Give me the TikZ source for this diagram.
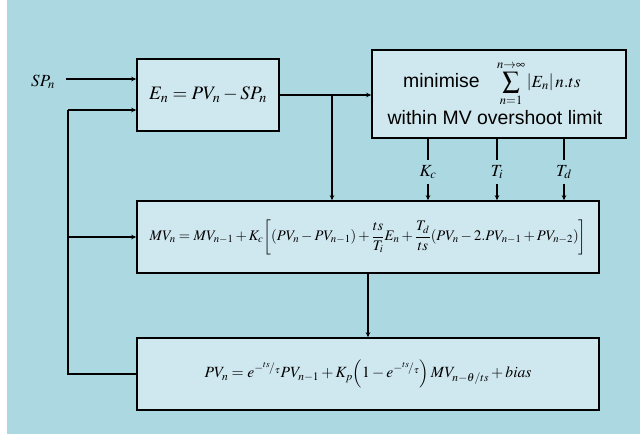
\documentclass[tikz,border=0pt]{standalone}
\usepackage{mathptmx}
\usepackage{fontspec}
\setmainfont{Liberation Serif}
\newfontfamily\arialf{Liberation Sans}
\usetikzlibrary{arrows.meta,calc}
\definecolor{bgblue}{HTML}{ACD8E2}
\definecolor{boxblue}{HTML}{CFE7EE}
\begin{document}
\begin{tikzpicture}[x=1pt,y=-1pt,
  blk/.style={draw=black,line width=1.6pt,fill=boxblue,inner sep=0pt,minimum width=#1},
  conn/.style={line width=2pt,draw=black},
  arr/.style={conn,-{Stealth[length=5pt,width=4.5pt]}},
  eq/.style={font=\fontsize{14.6}{16}\selectfont},
  big/.style={font=\fontsize{19}{21}\selectfont},
  sanstext/.style={font=\arialf\fontsize{19.4}{21}\selectfont,inner sep=0pt},
  lbl/.style={font=\fontsize{17}{19}\selectfont,inner sep=2pt}]
\useasboundingbox (0,0) rectangle (640,434);
\fill[white] (0,0) rectangle (640,434);
\fill[bgblue] (7,0) rectangle (640,434);

\node[blk=142pt,minimum height=72pt,big] (en) at (208,95) {$E_n = PV_n - SP_n$};
\node[blk=254pt,minimum height=88pt] (mini) at (499,94) {};
\node[sanstext,anchor=base west] (m1) at (403,87) {minimise};
\node[font=\fontsize{17}{19}\selectfont,inner sep=0pt,anchor=base west] (msum) at (497,87)
  {$\displaystyle\sum_{n=1}^{n\to\infty}\left|E_n\right| n.ts$};
\node[sanstext,anchor=base] (m2) at (495,124) {within MV overshoot limit};
\node[blk=462pt,minimum height=72pt,eq] (mv) at (368,237)
  {$\displaystyle MV_n = MV_{n-1} + K_c\!\left[(PV_n - PV_{n-1}) + \frac{ts}{T_i}E_n + \frac{T_d}{ts}(PV_n - 2.PV_{n-1} + PV_{n-2})\right]$};
\node[blk=462pt,minimum height=72pt,font=\fontsize{15.6}{17}\selectfont] (pv) at (368,374)
  {$\displaystyle PV_n = e^{-{}^{ts}\!/_{\tau}} PV_{n-1} + K_p\!\left(1 - e^{-{}^{ts}\!/_{\tau}}\right) MV_{n-\theta/ts} + bias$};

\node[lbl] (sp) at (43,82) {$SP_n$};
\node[lbl] (kc) at (428,172) {$K_c$};
\node[lbl] (ti) at (497,172) {$T_i$};
\node[lbl] (td) at (564,172) {$T_d$};

\coordinate (fbtop) at (68,110);
\coordinate (fbmid) at (68,237);
\coordinate (fbbot) at (68,374);
\coordinate (br) at (332,95);
\coordinate (spend) at (66,79);

\draw[arr] (spend) -- (en.west |- spend);
\draw[conn] (pv.west) -- (fbbot) -- (fbtop);
\draw[arr] (fbtop) -- (en.west |- fbtop);
\draw[arr] (fbmid) -- (mv.west);
\draw[arr] (en.east) -- (mini.west |- en.east);
\draw[arr] (br) -- (br |- mv.north);
\draw[conn] (kc |- mini.south) -- ([yshift=3pt]kc.north);
\draw[arr] ([yshift=-3pt]kc.south) -- (kc |- mv.north);
\draw[conn] (ti |- mini.south) -- ([yshift=3pt]ti.north);
\draw[arr] ([yshift=-3pt]ti.south) -- (ti |- mv.north);
\draw[conn] (td |- mini.south) -- ([yshift=3pt]td.north);
\draw[arr] ([yshift=-3pt]td.south) -- (td |- mv.north);
\draw[arr] (mv.south) -- (pv.north);
\end{tikzpicture}
\end{document}
